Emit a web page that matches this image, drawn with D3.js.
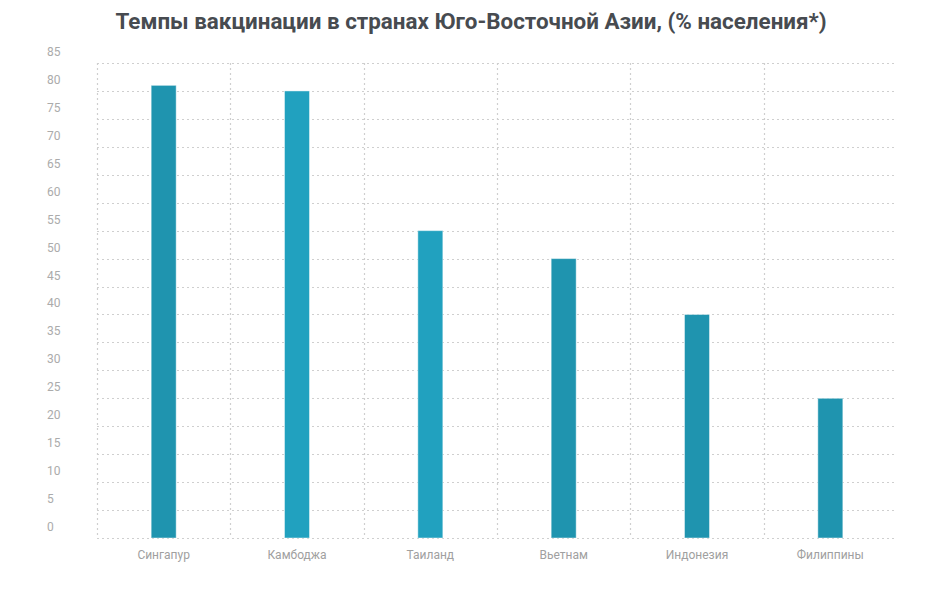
<!DOCTYPE html>
<html>
<head>
<meta charset="utf-8">
<script src="https://cdn.jsdelivr.net/npm/d3@7"></script>
<style>
  body { margin: 0; background: #fff; }
  text { font-family: Roboto, "Noto Sans", sans-serif; }
</style>
</head>
<body>
<div id="vis"></div>
<script>
var countries = ['Сингапур', 'Камбоджа', 'Таиланд', 'Вьетнам', 'Индонезия', 'Филиппины'];
var values = [81, 80, 55, 50, 40, 25];
var barColors = ['#1f94af', '#21a1bf', '#21a1bf', '#1f94af', '#1f94af', '#1f94af'];
var yTicks = d3.range(0, 86, 5);

var width = 937, height = 595;
var margin = {top: 63, right: 40, bottom: 57, left: 97};

var svg = d3.select('#vis').append('svg')
    .attr('width', width)
    .attr('height', height);

var x = d3.scaleBand()
    .domain(countries)
    .range([margin.left, width - margin.right]);

var y = d3.scaleLinear()
    .domain([0, 85])
    .range([height - margin.bottom, margin.top]);

// title
svg.append('text')
    .attr('x', 471)
    .attr('y', 29)
    .attr('text-anchor', 'middle')
    .attr('font-size', 22.4)
    .attr('font-weight', 'bold')
    .attr('fill', '#474b50')
    .text('Темпы вакцинации в странах Юго-Восточной Азии, (% населения*)');

// grid
var grid = svg.append('g')
    .attr('stroke', '#cfcfcf')
    .attr('stroke-width', 1.2)
    .attr('stroke-dasharray', '2,3');

grid.selectAll('line.h')
    .data(yTicks)
    .enter()
    .append('line')
        .attr('class', 'h')
        .attr('x1', margin.left)
        .attr('x2', width - margin.right)
        .attr('y1', d => Math.round(y(d)) + 0.5)
        .attr('y2', d => Math.round(y(d)) + 0.5);

grid.selectAll('line.v')
    .data(countries)
    .enter()
    .append('line')
        .attr('class', 'v')
        .attr('x1', d => Math.round(x(d)) + 0.5)
        .attr('x2', d => Math.round(x(d)) + 0.5)
        .attr('y1', y(85))
        .attr('y2', y(0));

// y labels (sit a bit above their gridline)
svg.append('g')
    .selectAll('text')
    .data(yTicks)
    .enter()
    .append('text')
        .attr('x', 47)
        .attr('y', d => y(d) - 7)
        .attr('font-size', 12)
        .attr('fill', '#ababab')
        .text(d => d);

// bars
var barW = 25;
svg.append('g')
    .selectAll('rect')
    .data(values)
    .enter()
    .append('rect')
        .attr('x', (d, i) => x(countries[i]) + x.bandwidth() / 2 - barW / 2)
        .attr('y', d => y(d))
        .attr('width', barW)
        .attr('height', d => y(0) - y(d))
        .attr('fill', (d, i) => barColors[i])
        .attr('stroke', 'rgba(255,255,255,0.45)')
        .attr('stroke-width', 1);

// x labels
svg.append('g')
    .selectAll('text')
    .data(countries)
    .enter()
    .append('text')
        .attr('x', d => x(d) + x.bandwidth() / 2)
        .attr('y', 559)
        .attr('text-anchor', 'middle')
        .attr('font-size', 12)
        .attr('fill', '#a0a0a0')
        .text(d => d);
</script>
</body>
</html>
